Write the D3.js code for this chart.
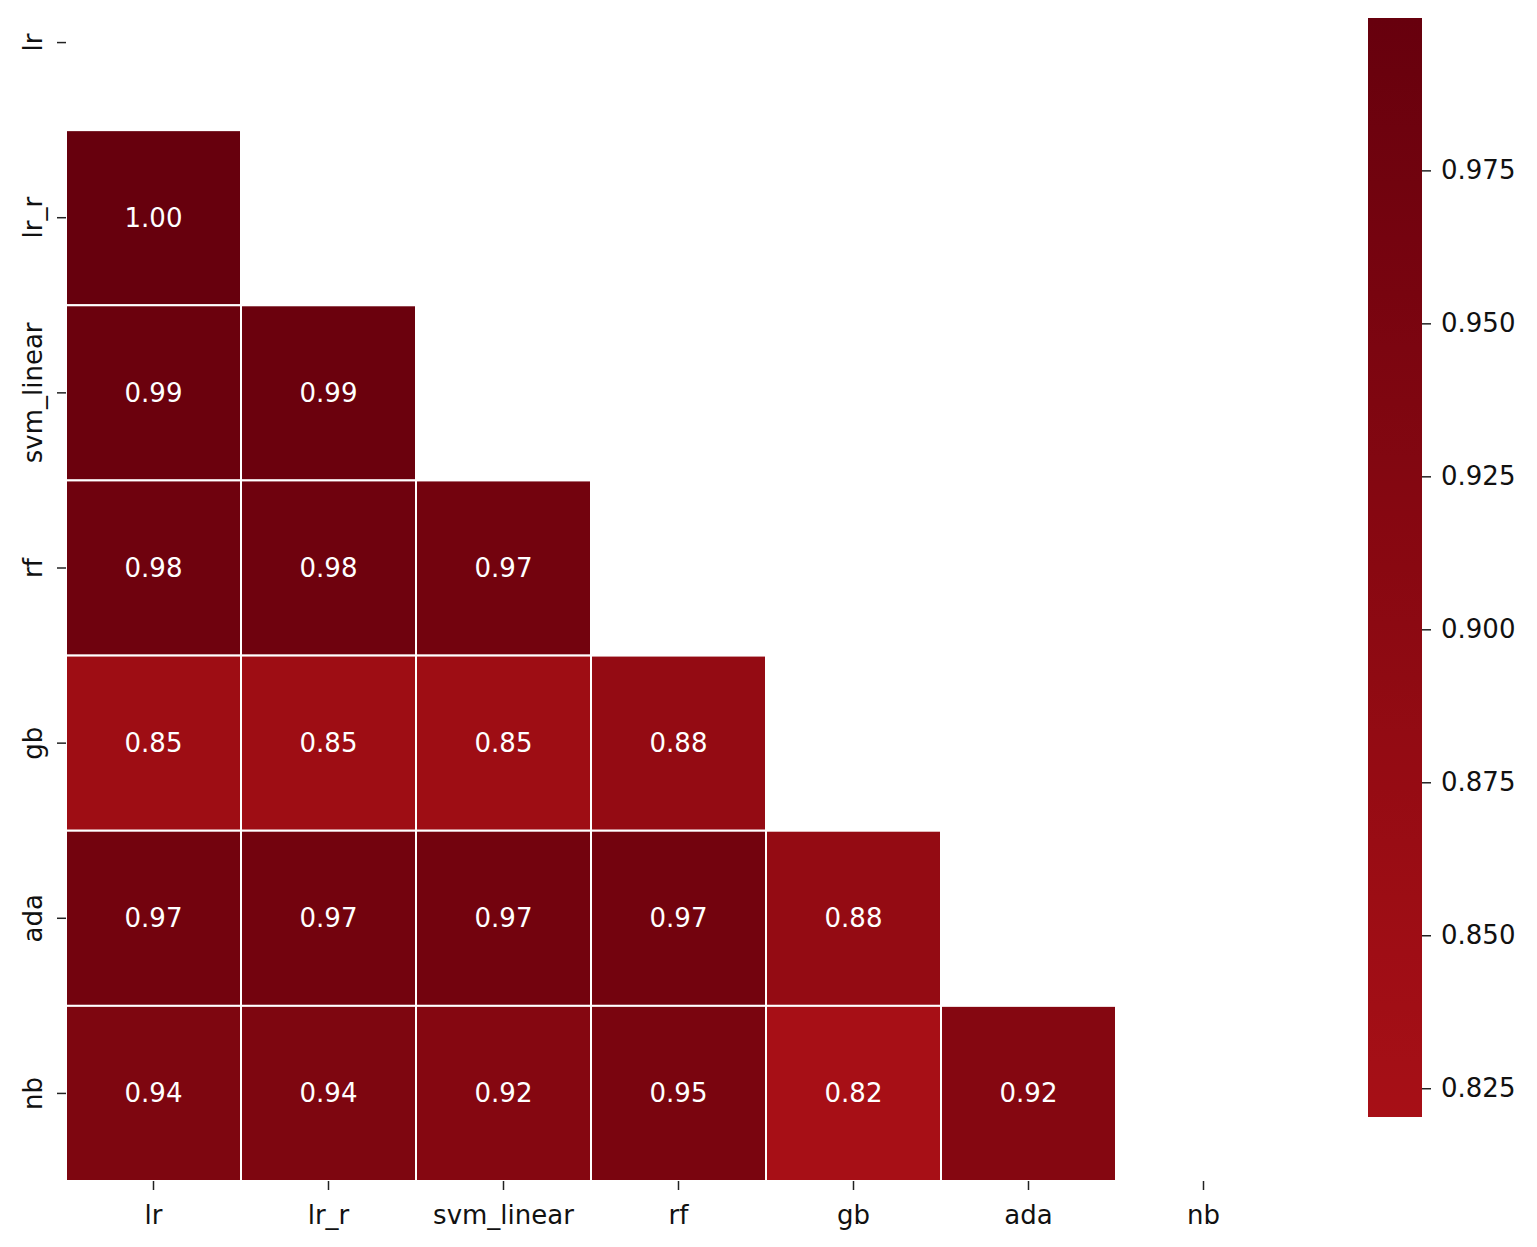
<!DOCTYPE html>
<html>
<head lang="en">
<meta charset="UTF-8">
<title>Correlation heatmap</title>
<script src="https://cdnjs.cloudflare.com/ajax/libs/d3/7.8.5/d3.min.js"></script>
</head>
<body style="margin:0;background:white">
<div id="chart"></div>
<script>
var labels = ['lr', 'lr_r', 'svm_linear', 'rf', 'gb', 'ada', 'nb'];
// lower triangle rows (row i has i values)
var matrix = [
  [],
  [1.00],
  [0.99, 0.99],
  [0.98, 0.98, 0.97],
  [0.85, 0.85, 0.85, 0.88],
  [0.97, 0.97, 0.97, 0.97, 0.88],
  [0.94, 0.94, 0.92, 0.95, 0.82, 0.92]
];
var cbTicks = [0.825, 0.850, 0.875, 0.900, 0.925, 0.950, 0.975];
var vmin = 0.8203, vmax = 0.9999;

var W = 1537, H = 1247;
var svg = d3.select('#chart').append('svg').attr('width', W).attr('height', H)
  .style('font-family', 'DejaVu Sans, sans-serif');

var x = d3.scaleBand().domain(labels).range([66, 1291]);
var y = d3.scaleBand().domain(labels).range([-45, 1181]);
var cmap = function(v) {
  var t = (v - vmin) / (vmax - vmin);
  return d3.interpolateReds(0.86 + 0.14 * Math.max(0, Math.min(1, t)));
};

var cells = [];
matrix.forEach(function(row, i) {
  row.forEach(function(v, j) { cells.push({r: labels[i], c: labels[j], v: v}); });
});

svg.selectAll('rect.cell').data(cells).enter().append('rect')
  .attr('x', function(d) { return x(d.c); })
  .attr('y', function(d) { return y(d.r); })
  .attr('width', x.bandwidth()).attr('height', y.bandwidth())
  .attr('fill', function(d) { return cmap(d.v); })
  .attr('stroke', 'white').attr('stroke-width', 2);

svg.selectAll('text.ann').data(cells).enter().append('text')
  .attr('x', function(d) { return x(d.c) + x.bandwidth() / 2; })
  .attr('y', function(d) { return y(d.r) + y.bandwidth() / 2; })
  .attr('text-anchor', 'middle').attr('dominant-baseline', 'central')
  .attr('fill', 'white').style('font-size', '26px')
  .text(function(d) { return d.v.toFixed(2); });

// x axis
var xa = svg.append('g');
labels.forEach(function(l) {
  var cx = x(l) + x.bandwidth() / 2;
  xa.append('line').attr('x1', cx).attr('x2', cx).attr('y1', 1181).attr('y2', 1190).attr('stroke', '#222').attr('stroke-width', 1.5);
  xa.append('text').attr('x', cx).attr('y', 1224).attr('text-anchor', 'middle').style('font-size', '26px').attr('fill', '#111').text(l);
});
// y axis
var ya = svg.append('g');
labels.forEach(function(l) {
  var cy = y(l) + y.bandwidth() / 2;
  ya.append('line').attr('x1', 57).attr('x2', 66).attr('y1', cy).attr('y2', cy).attr('stroke', '#222').attr('stroke-width', 1.5);
  ya.append('text').attr('transform', 'translate(42,' + cy + ') rotate(-90)')
    .attr('text-anchor', 'middle').style('font-size', '26px').attr('fill', '#111').text(l);
});

// colorbar
var cbX = 1368, cbW = 54, cbTop = 18, cbBot = 1117;
var cy = d3.scaleLinear().domain([vmin, vmax]).range([cbBot, cbTop]);
var defs = svg.append('defs');
var grad = defs.append('linearGradient').attr('id', 'cb').attr('x1', 0).attr('x2', 0).attr('y1', 1).attr('y2', 0);
d3.range(0, 1.0001, 0.05).forEach(function(t) {
  grad.append('stop').attr('offset', t).attr('stop-color', cmap(vmin + t * (vmax - vmin)));
});
svg.append('rect').attr('x', cbX).attr('y', cbTop).attr('width', cbW).attr('height', cbBot - cbTop).attr('fill', 'url(#cb)');
var cbAxis = d3.axisRight(cy).tickValues(cbTicks).tickFormat(d3.format('.3f')).tickSize(9).tickPadding(10);
var cg = svg.append('g').attr('transform', 'translate(' + (cbX + cbW) + ',0)').call(cbAxis);
cg.select('.domain').remove();
cg.selectAll('line').attr('stroke', '#222').attr('stroke-width', 1.5);
cg.selectAll('text').style('font-size', '26px').attr('fill', '#111').style('font-family', 'DejaVu Sans, sans-serif');
</script>
</body>
</html>
